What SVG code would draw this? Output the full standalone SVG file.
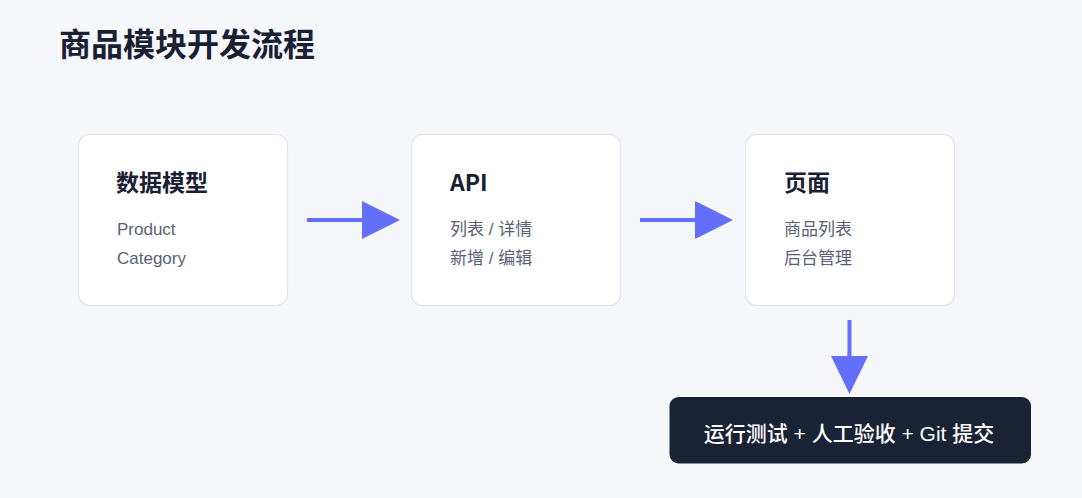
<svg xmlns="http://www.w3.org/2000/svg" width="1082" height="498" viewBox="0 0 1082 498">
  <style>
    .card { fill: #ffffff; stroke: #e2e5ee; stroke-width: 1.2; }
    .ttl { font-family: "Noto Sans CJK SC", "Liberation Sans", sans-serif; font-weight: 700; fill: #1a2033; }
    .h { font-family: "Noto Sans CJK SC", "Liberation Sans", sans-serif; font-size: 23px; font-weight: 700; fill: #1a2033; }
    .sub { font-family: "Liberation Sans", "Noto Sans CJK SC", sans-serif; font-size: 17px; fill: #596275; }
    .conn { stroke: #636ffa; stroke-width: 4; fill: none; }
    .head { fill: #636ffa; }
    .final { fill: #1a2236; }
    .ft { font-family: "Liberation Sans", "Noto Sans CJK SC", sans-serif; font-size: 21px; font-weight: 500; fill: #ffffff; }
  </style>
  <rect x="0" y="0" width="1082" height="498" fill="#f6f7fb"/>
  <text class="ttl" x="59" y="56" font-size="32">商品模块开发流程</text>

  <g id="node-model">
    <rect class="card" x="78.5" y="134.5" width="209" height="171" rx="11"/>
    <text class="h" x="116" y="191">数据模型</text>
    <text class="sub" x="117" y="235">Product</text>
    <text class="sub" x="117" y="264">Category</text>
  </g>
  <g id="node-api">
    <rect class="card" x="411.5" y="134.5" width="209" height="171" rx="11"/>
    <text class="h" x="450" y="191">API</text>
    <text class="sub" x="450" y="235">列表 / 详情</text>
    <text class="sub" x="450" y="264">新增 / 编辑</text>
  </g>
  <g id="node-page">
    <rect class="card" x="745.5" y="134.5" width="209" height="171" rx="11"/>
    <text class="h" x="784" y="191">页面</text>
    <text class="sub" x="784" y="235">商品列表</text>
    <text class="sub" x="784" y="264">后台管理</text>
  </g>
  <g id="node-final">
    <rect class="final" x="669.5" y="397" width="361.5" height="66.5" rx="9"/>
    <text class="ft" x="849" y="441" text-anchor="middle">运行测试 + 人工验收 + Git 提交</text>
  </g>

  <g id="connectors">
    <line class="conn" x1="307" y1="220" x2="364" y2="220"/>
    <polygon class="head" points="362,201 400,220 362,239"/>
    <line class="conn" x1="640" y1="220" x2="697" y2="220"/>
    <polygon class="head" points="695,201 733,220 695,239"/>
    <line class="conn" x1="849.5" y1="320" x2="849.5" y2="358"/>
    <polygon class="head" points="831,356 868,356 849.5,394"/>
  </g>
</svg>
